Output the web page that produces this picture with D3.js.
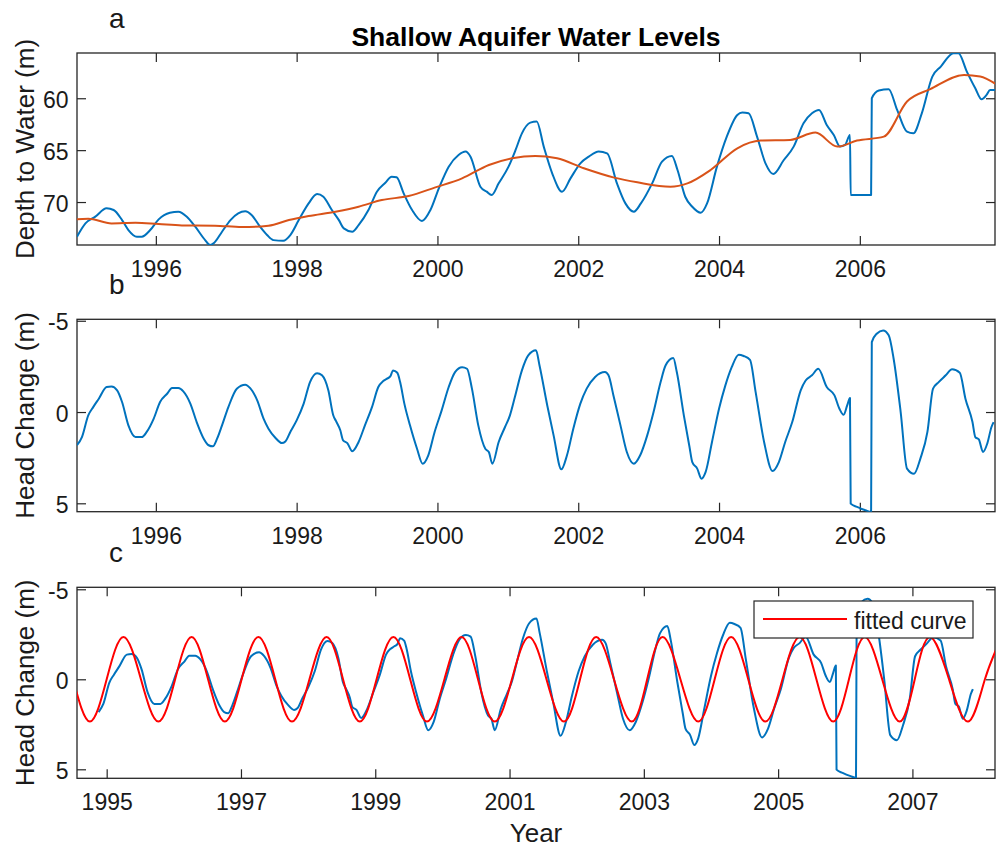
<!DOCTYPE html>
<html>
<head>
<meta charset="utf-8">
<style>
  body { margin: 0; background: #fff; }
  svg { display: block; font-family: "Liberation Sans", Arial, sans-serif; }
</style>
</head>
<body>
<svg id="chart" width="998" height="847"></svg>
<script src="https://cdn.jsdelivr.net/npm/d3@7"></script>
<script>
// ---- data ----
const depthYears = [1994.88, 1995.00, 1995.14, 1995.30, 1995.40, 1995.52, 1995.61, 1995.73, 1995.80, 1995.92,
  1996.04, 1996.20, 1996.32, 1996.44, 1996.56, 1996.70, 1996.77, 1996.83, 1996.94, 1997.06,
  1997.17, 1997.27, 1997.36, 1997.48, 1997.58, 1997.67, 1997.81, 1997.91, 1998.03, 1998.17,
  1998.29, 1998.38, 1998.50, 1998.60, 1998.67, 1998.79, 1998.88, 1999.02, 1999.14, 1999.26,
  1999.35, 1999.42, 1999.52, 1999.64, 1999.78, 1999.90, 2000.02, 2000.16, 2000.30, 2000.40,
  2000.47, 2000.61, 2000.70, 2000.77, 2000.87, 2001.01, 2001.11, 2001.20, 2001.32, 2001.41,
  2001.51, 2001.63, 2001.77, 2001.89, 2002.03, 2002.15, 2002.29, 2002.41, 2002.55, 2002.67,
  2002.79, 2002.89, 2003.05, 2003.19, 2003.33, 2003.41, 2003.52, 2003.62, 2003.74, 2003.83,
  2003.97, 2004.11, 2004.26, 2004.33, 2004.42, 2004.54, 2004.66, 2004.77, 2004.92, 2005.06,
  2005.20, 2005.32, 2005.42, 2005.53, 2005.63, 2005.72, 2005.79, 2005.86, 2005.87, 2006.16,
  2006.17, 2006.27, 2006.41, 2006.53, 2006.67, 2006.76, 2006.88, 2007.03, 2007.15, 2007.33,
  2007.40, 2007.52, 2007.64, 2007.73, 2007.80, 2007.85, 2007.92];
const depthValues = [73.34, 72.06, 71.41, 70.61, 70.77, 71.74, 72.70, 73.34, 73.34, 72.70,
  71.67, 71.03, 70.93, 71.41, 72.38, 73.67, 74.15, 73.92, 72.86, 71.74,
  71.09, 70.90, 71.25, 72.38, 73.18, 73.67, 73.73, 73.18, 71.74, 70.13,
  69.23, 69.49, 70.77, 71.74, 72.54, 72.86, 72.22, 70.77, 69.00, 68.14,
  67.56, 67.62, 69.16, 70.77, 71.83, 70.77, 68.68, 66.59, 65.47, 65.14,
  65.63, 68.52, 69.00, 69.32, 68.20, 66.59, 64.98, 63.38, 62.35, 62.25,
  64.66, 67.23, 69.00, 67.72, 66.27, 65.63, 65.14, 65.31, 68.20, 70.13,
  70.93, 70.13, 68.20, 66.11, 65.56, 66.91, 69.49, 70.45, 71.03, 70.13,
  66.59, 63.70, 61.61, 61.38, 61.45, 63.70, 66.27, 67.30, 65.95, 64.66,
  62.41, 61.45, 61.13, 62.57, 63.54, 64.66, 64.50, 63.54, 69.32, 69.32,
  60.00, 59.26, 59.13, 61.13, 63.22, 63.38, 61.45, 57.91, 56.95, 55.66,
  55.66, 57.43, 59.04, 60.10, 59.68, 59.20, 59.20];

const trendYears = [1994.85, 1995.04, 1995.37, 1995.71, 1996.04, 1996.37, 1996.84, 1997.22, 1997.60, 1997.89,
  1998.17, 1998.55, 1998.88, 1999.21, 1999.59, 1999.97, 2000.35, 2000.73, 2001.06, 2001.39,
  2001.70, 2002.08, 2002.51, 2002.84, 2003.31, 2003.55, 2003.88, 2004.26, 2004.59, 2005.01,
  2005.37, 2005.68, 2005.96, 2006.34, 2006.67, 2007.00, 2007.48, 2007.71, 2007.93];
const trendValues = [71.67, 71.61, 72.06, 71.99, 72.12, 72.25, 72.28, 72.41, 72.28, 71.74,
  71.35, 70.93, 70.45, 69.81, 69.42, 68.59, 67.72, 66.43, 65.79, 65.56,
  65.79, 66.75, 67.65, 68.10, 68.52, 68.20, 66.91, 64.82, 64.08, 64.02,
  63.31, 64.66, 64.08, 63.70, 60.32, 59.13, 57.75, 57.91, 58.62];

const headYears = [1994.88, 1994.95, 1995.04, 1995.11, 1995.19, 1995.30, 1995.37, 1995.45, 1995.52, 1995.61,
  1995.71, 1995.80, 1995.87, 1995.97, 1996.06, 1996.16, 1996.23, 1996.32, 1996.39, 1996.49,
  1996.58, 1996.68, 1996.75, 1996.81, 1996.87, 1996.94, 1997.03, 1997.15, 1997.27, 1997.34,
  1997.44, 1997.53, 1997.60, 1997.70, 1997.79, 1997.84, 1997.91, 1998.00, 1998.10, 1998.19,
  1998.29, 1998.36, 1998.45, 1998.52, 1998.56, 1998.62, 1998.66, 1998.72, 1998.79, 1998.88,
  1998.97, 1999.07, 1999.16, 1999.23, 1999.28, 1999.33, 1999.37, 1999.43, 1999.47, 1999.53,
  1999.61, 1999.71, 1999.79, 1999.87, 1999.96, 2000.06, 2000.16, 2000.25, 2000.35, 2000.42,
  2000.49, 2000.58, 2000.68, 2000.73, 2000.78, 2000.87, 2000.96, 2001.03, 2001.10, 2001.20,
  2001.29, 2001.40, 2001.45, 2001.56, 2001.65, 2001.76, 2001.84, 2001.93, 2002.03, 2002.12,
  2002.24, 2002.38, 2002.43, 2002.50, 2002.60, 2002.69, 2002.79, 2002.88, 2002.98, 2003.07,
  2003.17, 2003.24, 2003.35, 2003.40, 2003.50, 2003.58, 2003.62, 2003.69, 2003.75, 2003.81,
  2003.90, 2004.00, 2004.09, 2004.18, 2004.28, 2004.35, 2004.44, 2004.52, 2004.64, 2004.76,
  2004.85, 2004.94, 2005.04, 2005.16, 2005.23, 2005.32, 2005.41, 2005.53, 2005.64, 2005.71,
  2005.77, 2005.82, 2005.86, 2005.87, 2005.96, 2006.08, 2006.16, 2006.17, 2006.24, 2006.33,
  2006.41, 2006.48, 2006.58, 2006.67, 2006.77, 2006.86, 2006.96, 2007.04, 2007.12, 2007.22,
  2007.31, 2007.42, 2007.50, 2007.60, 2007.64, 2007.69, 2007.75, 2007.81, 2007.87, 2007.90];
const headValues = [1.82, 1.37, 0.18, -0.27, -0.73, -1.37, -1.40, -1.19, -0.55, 0.73,
  1.37, 1.37, 1.09, 0.36, -0.55, -1.00, -1.31, -1.31, -1.13, -0.46,
  0.55, 1.46, 1.82, 1.88, 1.46, 0.73, -0.27, -1.28, -1.50, -1.31,
  -0.64, 0.36, 0.91, 1.42, 1.70, 1.61, 1.09, 0.46, -0.46, -1.64,
  -2.13, -2.01, -1.19, 0.18, 0.50, 1.00, 1.55, 1.70, 2.15, 1.64,
  0.73, -0.27, -1.37, -1.70, -1.82, -1.95, -2.28, -2.15, -1.64, -0.46,
  0.73, 2.01, 2.83, 2.37, 1.09, -0.09, -1.37, -2.19, -2.46, -2.37,
  -1.28, 0.73, 2.01, 2.19, 2.83, 1.64, 0.82, 0.18, -0.82, -2.28,
  -3.10, -3.38, -2.55, -0.36, 1.28, 3.14, 2.37, 0.91, -0.46, -1.28,
  -1.92, -2.19, -2.01, -0.91, 0.73, 2.19, 2.83, 2.37, 1.28, 0.00,
  -1.64, -2.55, -2.96, -2.19, 0.18, 1.90, 2.74, 3.10, 3.65, 3.28,
  1.64, -0.18, -1.46, -2.46, -3.14, -3.07, -2.86, -1.09, 1.64, 3.23,
  2.74, 1.64, 0.55, -1.19, -1.73, -2.01, -2.37, -1.37, -0.91, -0.18,
  0.15, -0.36, -0.77, 5.02, 5.20, 5.38, 5.47, -3.83, -4.29, -4.47,
  -4.20, -2.92, 0.00, 3.10, 3.38, 2.55, 1.09, -1.28, -1.64, -2.01,
  -2.34, -2.15, -0.73, 0.55, 1.37, 1.50, 2.19, 1.73, 0.82, 0.55];

// fitted curve: crossings, troughs and crests
const fitYears = [1994.50, 1994.75, 1995.00, 1995.25, 1995.51, 1995.77, 1996.02, 1996.265, 1996.51, 1996.76,
  1997.01, 1997.26, 1997.51, 1997.76, 1998.02, 1998.275, 1998.52, 1998.77, 1999.02, 1999.27,
  1999.52, 1999.77, 2000.03, 2000.285, 2000.53, 2000.78, 2001.035, 2001.29, 2001.55, 2001.81,
  2002.05, 2002.29, 2002.555, 2002.82, 2003.05, 2003.28, 2003.545, 2003.81, 2004.055, 2004.30,
  2004.555, 2004.81, 2005.065, 2005.32, 2005.57, 2005.82, 2006.055, 2006.29, 2006.55, 2006.81,
  2007.035, 2007.26, 2007.545, 2007.83, 2008.08, 2008.33];
const fitValues = [0, 2.35, 0, -2.35, 0, 2.35, 0, -2.35, 0, 2.35,
  0, -2.35, 0, 2.35, 0, -2.35, 0, 2.35, 0, -2.35,
  0, 2.35, 0, -2.35, 0, 2.35, 0, -2.35, 0, 2.35,
  0, -2.35, 0, 2.35, 0, -2.35, 0, 2.35, 0, -2.35,
  0, 2.35, 0, -2.35, 0, 2.35, 0, -2.35, 0, 2.35,
  0, -2.35, 0, 2.35, 0, -2.35];

const yearTicksAB = [1996, 1998, 2000, 2002, 2004, 2006];
const yearTicksC = [1995, 1997, 1999, 2001, 2003, 2005, 2007];
const depthTicks = [60, 65, 70];
const headTicks = [-5, 0, 5];

// ---- drawing ----
const svg = d3.select('#chart');
const left = 77, right = 995;
const ink = '#262626';
const blue = '#0072BD', orange = '#D95319', red = '#FF0000';

function zip(xs, ys) { return xs.map((x, i) => [x, ys[i]]); }

function panel(id, top, bottom, xDomain, yDomain, xTicks, yTicks, letter) {
    const x = d3.scaleLinear().domain(xDomain).range([left, right]);
    const y = d3.scaleLinear().domain(yDomain).range([top, bottom]);
    const g = svg.append('g');

    g.append('clipPath').attr('id', 'clip-' + id)
        .append('rect').attr('x', left).attr('y', top)
        .attr('width', right - left).attr('height', bottom - top);

    const tl = 9;
    const bx = g.append('g').attr('transform', `translate(0,${bottom})`)
        .call(d3.axisBottom(x).tickValues(xTicks).tickFormat(d3.format('d'))
            .tickSize(-tl).tickPadding(15.5));
    const tx = g.append('g').attr('transform', `translate(0,${top})`)
        .call(d3.axisTop(x).tickValues(xTicks).tickFormat('').tickSize(-tl));
    const ly = g.append('g').attr('transform', `translate(${left},0)`)
        .call(d3.axisLeft(y).tickValues(yTicks).tickFormat(d => String(d))
            .tickSize(-tl).tickPadding(8.5));
    const ry = g.append('g').attr('transform', `translate(${right},0)`)
        .call(d3.axisRight(y).tickValues(yTicks).tickFormat('').tickSize(-tl));
    [bx, tx, ly, ry].forEach(a => {
        a.select('.domain').remove();
        a.selectAll('line').attr('stroke', ink).attr('stroke-width', 1.2);
        a.attr('font-family', null).attr('font-size', 23);
        a.selectAll('text').attr('fill', '#1a1a1a');
    });
    ly.selectAll('text').attr('dy', '0.4em');

    g.append('rect').attr('x', left).attr('y', top)
        .attr('width', right - left).attr('height', bottom - top)
        .attr('fill', 'none').attr('stroke', ink).attr('stroke-width', 1.3);

    svg.append('text').attr('x', 109).attr('y', top - 25)
        .attr('font-size', 28).attr('fill', '#1a1a1a').text(letter);

    return { g, x, y, clip: `url(#clip-${id})` };
}

function drawLine(p, xs, ys, color, width, curve) {
    const line = d3.line().x(d => p.x(d[0])).y(d => p.y(d[1])).curve(curve || d3.curveLinear);
    p.g.append('path').datum(zip(xs, ys))
        .attr('clip-path', p.clip)
        .attr('fill', 'none').attr('stroke', color).attr('stroke-width', width)
        .attr('stroke-linejoin', 'round').attr('d', line);
}

function yLabel(text, top, bottom) {
    svg.append('text')
        .attr('transform', `translate(34,${(top + bottom) / 2}) rotate(-90)`)
        .attr('text-anchor', 'middle').attr('font-size', 26).attr('fill', '#1a1a1a')
        .text(text);
}

// panel a
const pa = panel('a', 53, 245, [1994.88, 2007.92], [55.64, 74.14], yearTicksAB, depthTicks, 'a');
drawLine(pa, depthYears, depthValues, blue, 2, d3.curveMonotoneX);
drawLine(pa, trendYears, trendValues, orange, 2, d3.curveMonotoneX);
yLabel('Depth to Water (m)', 53, 245);
svg.append('text').attr('x', (left + right) / 2).attr('y', 46)
    .attr('text-anchor', 'middle').attr('font-size', 26.5).attr('font-weight', 'bold')
    .attr('fill', '#000').text('Shallow Aquifer Water Levels');

// panel b
const pb = panel('b', 319.3, 511.7, [1994.88, 2007.92], [-5.08, 5.46], yearTicksAB, headTicks, 'b');
drawLine(pb, headYears, headValues, blue, 2, d3.curveMonotoneX);
yLabel('Head Change (m)', 319.3, 511.7);

// panel c
const pc = panel('c', 587.3, 778.3, [1994.558, 2008.23], [-5.11, 5.5], yearTicksC, headTicks, 'c');
drawLine(pc, headYears, headValues, blue, 2, d3.curveMonotoneX);
drawLine(pc, fitYears, fitValues, red, 2, d3.curveNatural);
yLabel('Head Change (m)', 587.3, 778.3);
svg.append('text').attr('x', (left + right) / 2).attr('y', 842)
    .attr('text-anchor', 'middle').attr('font-size', 26).attr('fill', '#1a1a1a').text('Year');

// legend
const lg = svg.append('g');
lg.append('rect').attr('x', 754).attr('y', 601).attr('width', 219).attr('height', 37)
    .attr('fill', '#fff').attr('stroke', ink).attr('stroke-width', 1.2);
lg.append('line').attr('x1', 763).attr('x2', 847).attr('y1', 619).attr('y2', 619)
    .attr('stroke', red).attr('stroke-width', 2);
lg.append('text').attr('x', 854).attr('y', 629).attr('font-size', 23)
    .attr('fill', '#1a1a1a').text('fitted curve');
</script>
</body>
</html>
